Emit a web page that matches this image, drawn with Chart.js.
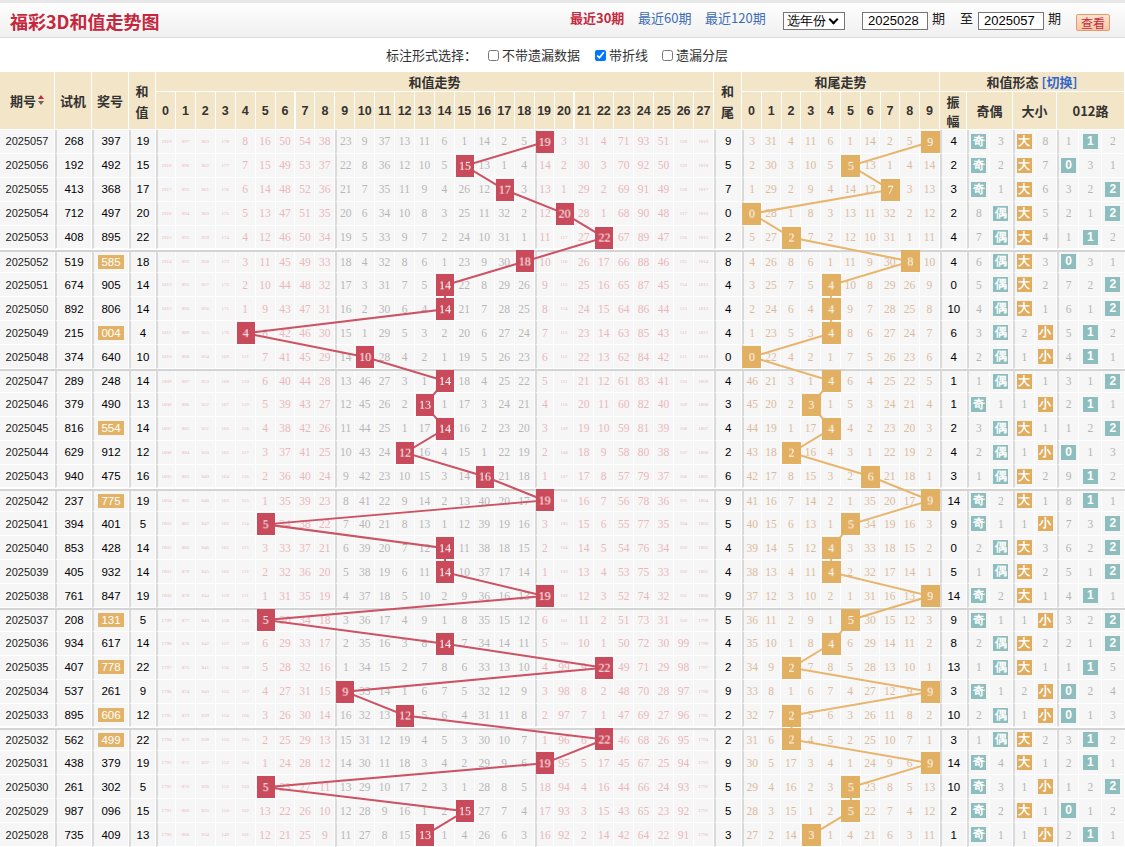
<!DOCTYPE html>
<html>
<head>
<meta charset="utf-8">
<title>福彩3D和值走势图</title>
<script src="https://cdn.jsdelivr.net/npm/chart.js@4.4.1/dist/chart.umd.min.js"></script>
<style>
  body { margin:0; width:1125px; height:847px; overflow:hidden; background:#fff; position:relative;
         font-family:"Noto Sans CJK SC","Liberation Sans",sans-serif; color:#333; }
  .abs { position:absolute; white-space:nowrap; }
  #topbar { position:absolute; left:0; top:0; width:1125px; height:38px; box-sizing:border-box;
            border-top:3px solid #e8e8e8; border-bottom:1px solid #dcdcdc; background:linear-gradient(#fefefe,#f0f0f0); }
  #title { left:10px; top:5px; font-size:18px; font-weight:bold; color:#c5283d; line-height:26px; }
  .nav { top:9px; font-size:13px; line-height:18px; color:#3d6cb5; }
  .nav.on { color:#c5283d; font-weight:bold; }
  .field { top:12px; height:18px; box-sizing:border-box; border:1px solid #767676; background:#fff;
           font:13px "Liberation Sans",sans-serif; color:#000; line-height:16px; padding-left:5px; }
  .lbl { top:9px; font-size:13px; line-height:18px; color:#222; }
  #btn { left:1076px; top:14px; width:34px; height:17px; box-sizing:border-box; border:1px solid #e39a6c; border-radius:2px;
         background:linear-gradient(#fde3cf,#f7c7a3); color:#c5283d; font-size:12px; line-height:15px; text-align:center; }
  .opt { top:46px; font-size:13px; line-height:18px; color:#333; }
  .opt input { width:11px; height:11px; margin:0; vertical-align:-1px; }
  .h { position:absolute; box-sizing:border-box; background:#f3e6c8; border-right:1px solid #fff; border-bottom:1px solid #fff;
       display:flex; align-items:center; justify-content:center; text-align:center; font-size:13px; font-weight:bold; color:#333; line-height:20px; }
  .h.num { font-family:"Liberation Sans",sans-serif; font-size:12.5px; }
  .sw { color:#3366cc; margin-left:3px; }
  .sort { display:inline-block; width:6px; height:11px; margin-left:2px; position:relative; vertical-align:middle; }
  .sort b, .sort i { position:absolute; left:0; width:0; height:0; border-left:3px solid transparent; border-right:3px solid transparent; }
  .sort b { top:0; border-bottom:4px solid #c5283d; }
  .sort i { top:6px; border-top:4px solid #666; }
  .row { position:absolute; left:0; width:1125px; box-sizing:border-box; display:flex; }
  .row.grp { border-top:2px solid #d4d4d4; }
  .c { flex:0 0 auto; box-sizing:border-box; height:100%; background:#f6f6f6; border-right:1px solid #fff; border-bottom:1px solid #fff;
       display:flex; align-items:center; justify-content:center; font:11px "Liberation Sans",sans-serif; color:#111; }
  .c.L { border-left:2px solid #dadada; }
  .c.pd { color:#222; }
  .c.bk { color:#000; font-size:11.5px; }
  .m { font-family:"Liberation Serif",serif; font-size:11.5px; }
  .pk { color:#eab7bc; }
  .gy { color:#b6b6b6; }
  .tn { color:#dbbb9c; }
  .og { color:#b4b4b4; }
  .tiny { font-size:5px; }
  .hl { background:#e2b267; color:#fff; padding:0 3px; line-height:14px; font-size:11.5px; }
  .tb, .ob { display:inline-block; width:15px; height:15px; line-height:15px; text-align:center; color:#fff; font-weight:bold; font-size:12px; }
  .tb { background:#8dbdbd; }
  .ob { background:#e0ad5f; }
  .ov { position:absolute; top:130px; height:717px; pointer-events:none; }
  .chev { position:absolute; right:7px; top:3px; width:5px; height:5px; border-right:2px solid #000; border-bottom:2px solid #000; transform:rotate(45deg); }
</style>
</head>
<body>
<div id="topbar">
  <div class="abs" id="title">福彩3D和值走势图</div>
</div>
<div class="abs nav on" style="left:570px">最近30期</div>
<div class="abs nav" style="left:638px">最近60期</div>
<div class="abs nav" style="left:705px">最近120期</div>
<div class="abs field" style="left:783px;width:62px;padding-left:3px">选年份<span class="chev"></span></div>
<div class="abs field" style="left:862px;width:66px">2025028</div>
<div class="abs lbl" style="left:932px">期</div>
<div class="abs lbl" style="left:960px">至</div>
<div class="abs field" style="left:978px;width:66px">2025057</div>
<div class="abs lbl" style="left:1048px">期</div>
<div class="abs" id="btn">查看</div>

<div class="abs opt" style="left:386px">标注形式选择：</div>
<div class="abs opt" style="left:488px"><input type="checkbox"> 不带遗漏数据</div>
<div class="abs opt" style="left:595px"><input type="checkbox" checked> 带折线</div>
<div class="abs opt" style="left:662px"><input type="checkbox"> 遗漏分层</div>

<div id="head"></div>
<div id="body"></div>
<div class="ov" style="left:156px;width:558px"><canvas id="sumChart"></canvas></div>
<div class="ov" style="left:742px;width:198px"><canvas id="tailChart"></canvas></div>

<script>
// periods, newest first (as listed top to bottom)
const periods = ['2025057','2025056','2025055','2025054','2025053','2025052','2025051','2025050','2025049','2025048',
                 '2025047','2025046','2025045','2025044','2025043','2025042','2025041','2025040','2025039','2025038',
                 '2025037','2025036','2025035','2025034','2025033','2025032','2025031','2025030','2025029','2025028'];
const testNums = ['268','192','413','712','408','519','674','892','215','374',
                  '289','379','816','629','940','237','394','853','405','761',
                  '208','934','407','537','895','562','438','261','987','735'];
const drawNums = ['397','492','368','497','895','585','905','806','004','640',
                  '248','490','554','912','475','775','401','428','932','847',
                  '131','617','778','261','606','499','379','302','096','409'];
const sums = [19,15,17,20,22,18,14,14,4,10, 14,13,14,12,16,19,5,14,14,19, 5,14,22,9,12,22,19,5,15,13];
const tails = [9,5,7,0,2,8,4,4,4,0, 4,3,4,2,6,9,5,4,4,9, 5,4,2,9,2,2,9,5,5,3];
const amplitudes = [4,2,3,2,4,4,0,10,6,4, 1,1,2,4,3,14,9,0,5,14, 9,8,13,3,10,3,14,10,2,1];

const sumTicks = ['0','1','2','3','4','5','6','7','8','9','10','11','12','13','14','15','16','17','18','19','20','21','22','23','24','25','26','27'];
const tailTicks = ['0','1','2','3','4','5','6','7','8','9'];

// miss counts shown in the oldest row (2025028); rows above carry them forward
const sumMissOldest = [1790,868,834,149,101,12,21,25,9,11,27,8,15,0,1,4,26,6,3,16,92,2,14,42,64,22,91,1790];
const tailMissOldest = [27,2,14,0,1,4,21,6,3,11];
const oddEvenOldest = [0,1];   // 奇, 偶
const bigSmallOldest = [1,0];  // 大, 小
const roadOldest = [2,0,1];    // 0, 1, 2 路

function missTable(hits, oldest) {
  const n = hits.length, out = [];
  let prev = null;
  for (let r = n - 1; r >= 0; r--) {
    const row = oldest.map((v, c) => c === hits[r] ? 0 : (prev ? prev[c] + 1 : v));
    out[r] = row; prev = row;
  }
  return out;
}

const sumMiss = missTable(sums, sumMissOldest);
const tailMiss = missTable(tails, tailMissOldest);
const oeHits = sums.map(s => s % 2 === 1 ? 0 : 1);
const bsHits = sums.map(s => s >= 14 ? 0 : 1);
const roadHits = sums.map(s => s % 3);
const oeMiss = missTable(oeHits, oddEvenOldest);
const bsMiss = missTable(bsHits, bigSmallOldest);
const roadMiss = missTable(roadHits, roadOldest);

const SW = 558 / 28, TW = 19.8;
const TOP = 130, ROW_H = 717 / 30;

// header
let hh = '';
const hcell = (x, y, w, h, html, cls) =>
  `<div class="h ${cls || ''}" style="left:${x}px;top:${y}px;width:${w}px;height:${h}px">${html}</div>`;
hh += hcell(0, 72, 55, 58, '期号<span class="sort"><b></b><i></i></span>');
hh += hcell(55, 72, 37, 58, '试机');
hh += hcell(92, 72, 37, 58, '奖号');
hh += hcell(129, 72, 27, 58, '<div style="line-height:21px">和<br>值</div>');
hh += hcell(156, 72, 558, 20, '和值走势');
sumTicks.forEach((t, i) => hh += hcell(156 + i * SW, 92, SW, 38, t, 'num'));
hh += hcell(714, 72, 28, 58, '<div style="line-height:21px">和<br>尾</div>');
hh += hcell(742, 72, 198, 20, '和尾走势');
tailTicks.forEach((t, i) => hh += hcell(742 + i * TW, 92, TW, 38, t, 'num'));
hh += hcell(940, 72, 185, 20, '和值形态<span class="sw">[切换]</span>');
hh += hcell(940, 92, 27, 38, '<div style="line-height:19px">振<br>幅</div>');
hh += hcell(967, 92, 46, 38, '奇偶');
hh += hcell(1013, 92, 44, 38, '大小');
hh += hcell(1057, 92, 68, 38, '012路');
document.getElementById('head').innerHTML = hh;

// body rows
const cell = (w, html, cls) => `<div class="c ${cls || ''}" style="width:${w}px">${html}</div>`;
const missNum = (v, color) => `<span class="m ${color}${v >= 100 ? ' tiny' : ''}">${v}</span>`;
const hasPair = s => s[0] === s[1] || s[1] === s[2] || s[0] === s[2];

let bh = '';
periods.forEach((p, r) => {
  const grp = r > 0 && r % 5 === 0 ? ' grp' : '';
  let row = `<div class="row${grp}" style="top:${TOP + r * ROW_H}px;height:${ROW_H}px">`;
  row += cell(55, p, 'pd');
  row += cell(37, testNums[r], 'L bk');
  row += cell(37, hasPair(drawNums[r]) ? `<span class="hl">${drawNums[r]}</span>` : drawNums[r], 'L bk');
  row += cell(27, sums[r], 'L bk');
  sumMiss[r].forEach((v, c) => {
    const color = (c <= 8 || c >= 19) ? 'pk' : 'gy';
    const cls = (c === 0 || c === 9 || c === 19) ? 'L' : '';
    row += cell(SW, v === 0 ? '' : missNum(v, color), cls);
  });
  row += cell(28, tails[r], 'L bk');
  tailMiss[r].forEach((v, c) => row += cell(TW, v === 0 ? '' : missNum(v, 'tn'), c === 0 ? 'L' : ''));
  row += cell(27, amplitudes[r], 'L bk');
  ['奇', '偶'].forEach((t, c) => row += cell(23, oeMiss[r][c] === 0 ? `<span class="tb">${t}</span>` : missNum(oeMiss[r][c], 'og'), c === 0 ? 'L' : ''));
  ['大', '小'].forEach((t, c) => row += cell(22, bsMiss[r][c] === 0 ? `<span class="ob">${t}</span>` : missNum(bsMiss[r][c], 'og'), c === 0 ? 'L' : ''));
  ['0', '1', '2'].forEach((t, c) => row += cell(68 / 3, roadMiss[r][c] === 0 ? `<span class="tb" style="font-family:'Liberation Sans'">${t}</span>` : missNum(roadMiss[r][c], 'og'), c === 0 ? 'L' : ''));
  row += '</div>';
  bh += row;
});
document.getElementById('body').innerHTML = bh;

// marker boxes for the trend lines
function boxImage(text, color, w, h) {
  const cv = document.createElement('canvas');
  cv.width = w; cv.height = h;
  const g = cv.getContext('2d');
  g.fillStyle = color;
  g.fillRect(0, 0, w, h);
  g.fillStyle = '#fff';
  g.font = '12px "Liberation Serif", serif';
  g.textAlign = 'center';
  g.textBaseline = 'middle';
  g.fillText(text, w / 2, h / 2 + 1);
  return cv;
}

function trendChart(id, values, ticks, boxColor, lineColor, bw, bh) {
  return new Chart(document.getElementById(id), {
    type: 'scatter',
    data: {
      datasets: [{
        data: values.map((v, i) => ({ x: v, y: periods[i] })),
        showLine: true,
        borderColor: lineColor,
        borderWidth: 2,
        tension: 0,
        pointStyle: values.map(v => boxImage(String(v), boxColor, bw, bh)),
        pointRadius: 9,
        pointHoverRadius: 9,
        clip: false
      }]
    },
    options: {
      responsive: true,
      maintainAspectRatio: false,
      animation: false,
      events: [],
      layout: { padding: 0, autoPadding: false },
      plugins: { legend: { display: false }, tooltip: { enabled: false } },
      scales: {
        x: { type: 'linear', min: -0.5, max: ticks.length - 0.5, display: false },
        y: { type: 'category', labels: periods, offset: true, display: false }
      }
    }
  });
}

trendChart('sumChart', sums, sumTicks, '#c94b5b', '#cc5264', 18, 22);
trendChart('tailChart', tails, tailTicks, '#e2b063', '#e8b56c', 19, 22);
</script>
</body>
</html>
